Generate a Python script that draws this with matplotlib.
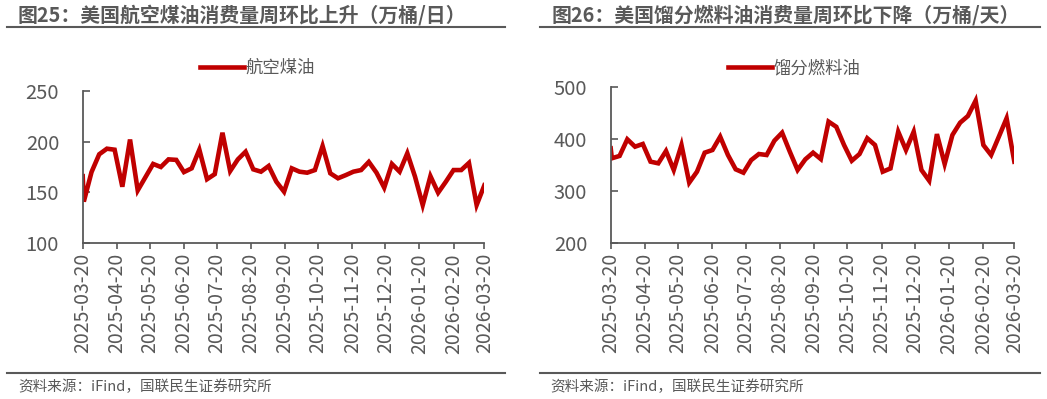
import numpy as np
import pandas as pd
import matplotlib
matplotlib.use('Agg')
from matplotlib import pyplot as plt
import matplotlib.dates as mdates
from matplotlib.lines import Line2D

plt.rcParams['font.family'] = ['Noto Sans CJK SC', 'DejaVu Sans']

GRAY = '#595959'
RED = '#C00000'

# weekly data, the first point sits on the axis start
dates = [pd.Timestamp('2025-03-20')] + list(pd.date_range('2025-03-21', '2026-03-20', freq='7D'))

jet_fuel = [166,
            141, 170, 187.5, 193, 192, 155.6, 202, 152, 165, 178, 175, 182.5, 182,
            170, 173.7, 192, 163, 168, 208.7, 171, 182.5, 190, 172.7, 170.4, 176,
            160.5, 150.7, 173.7, 170.4, 169.4, 172, 195.6, 168.8, 163.9, 167, 170.4,
            172, 180, 169.4, 154.7, 178, 170.4, 188.5, 165.5, 137.6, 166, 149.7,
            160.5, 172, 172, 179, 137.6, 157]

distillate = [382.7,
              363.5, 368, 400, 385.8, 391, 357, 353.8, 377.5, 341, 389, 316.7, 337.7,
              374.3, 379.4, 405, 369.8, 342.3, 335.8, 360, 371.7, 369.8, 397.3, 412.7,
              376, 341, 361.5, 374.3, 362, 434, 424, 389, 358.8, 371.7, 402, 389,
              337.7, 344, 414.6, 379.4, 414.6, 341, 320.4, 410, 352.5, 408.3, 432,
              444.8, 474.3, 389, 369.8, 405, 440.4, 357]

tick_dates = pd.date_range('2025-03-20', '2026-03-20', freq='MS') + pd.Timedelta(days=19)
tick_dates = [pd.Timestamp('2025-03-20')] + [d for d in tick_dates if d > pd.Timestamp('2025-03-20')]

titles = ['图25：美国航空煤油消费量周环比上升（万桶/日）',
          '图26：美国馏分燃料油消费量周环比下降（万桶/天）']
names = ['航空煤油', '馏分燃料油']
source = '资料来源：iFind，国联民生证券研究所'

fig = plt.figure(figsize=(10.47, 3.99), dpi=100)

panels = [
    dict(rect=[0.079, 0.3902, 0.3836, 0.3825], data=jet_fuel, ylim=(100, 250),
         yticks=[100, 150, 200, 250], leg=(0.246, 0.8296)),
    dict(rect=[0.5833, 0.3902, 0.3855, 0.391], data=distillate, ylim=(200, 500),
         yticks=[200, 300, 400, 500], leg=(0.7588, 0.8296)),
]

for p, name in zip(panels, names):
    ax = fig.add_axes(p['rect'])
    ax.plot(dates, p['data'], color=RED, linewidth=3.3, solid_joinstyle='miter',
            label=name)
    ax.set_xlim(pd.Timestamp('2025-03-20'), pd.Timestamp('2026-03-20'))
    ax.set_ylim(*p['ylim'])
    ax.set_yticks(p['yticks'])
    ax.set_xticks(tick_dates)
    ax.xaxis.set_major_formatter(mdates.DateFormatter('%Y-%m-%d'))
    for s in ['top', 'right']:
        ax.spines[s].set_visible(False)
    for s in ['left', 'bottom']:
        ax.spines[s].set_color(GRAY)
        ax.spines[s].set_linewidth(1.3)
    ax.tick_params(axis='y', direction='in', length=5, width=1.2, color=GRAY,
                   labelcolor=GRAY, labelsize=14.5, pad=17)
    ax.tick_params(axis='x', direction='out', length=4, width=1.2, color=GRAY,
                   labelcolor=GRAY, labelsize=14, pad=3, labelrotation=90)
    ax.legend(loc='center', bbox_to_anchor=p['leg'], bbox_transform=fig.transFigure,
              frameon=False, fontsize=12.5, handlelength=2.5, handletextpad=0.1,
              labelcolor=GRAY)

# titles with underline
fig.text(18 / 1047, 1 - 15 / 399, titles[0], fontsize=14.3, fontweight='bold',
         color=GRAY, va='center', ha='left')
fig.text(552 / 1047, 1 - 15 / 399, titles[1], fontsize=14.3, fontweight='bold',
         color=GRAY, va='center', ha='left')
fig.add_artist(Line2D([7 / 1047, 505 / 1047], [1 - 26.5 / 399] * 2, color=GRAY, linewidth=1.5))
fig.add_artist(Line2D([540 / 1047, 1040 / 1047], [1 - 26.5 / 399] * 2, color=GRAY, linewidth=1.5))

# source lines
fig.add_artist(Line2D([7 / 1047, 505 / 1047], [1 - 372.5 / 399] * 2, color=GRAY, linewidth=1.5))
fig.add_artist(Line2D([540 / 1047, 1040 / 1047], [1 - 372.5 / 399] * 2, color=GRAY, linewidth=1.5))
fig.text(18 / 1047, 1 - 387 / 399, source, fontsize=10.5, color=GRAY, va='center', ha='left')
fig.text(550 / 1047, 1 - 387 / 399, source, fontsize=10.5, color=GRAY, va='center', ha='left')

fig.savefig('out.png', dpi=100)
